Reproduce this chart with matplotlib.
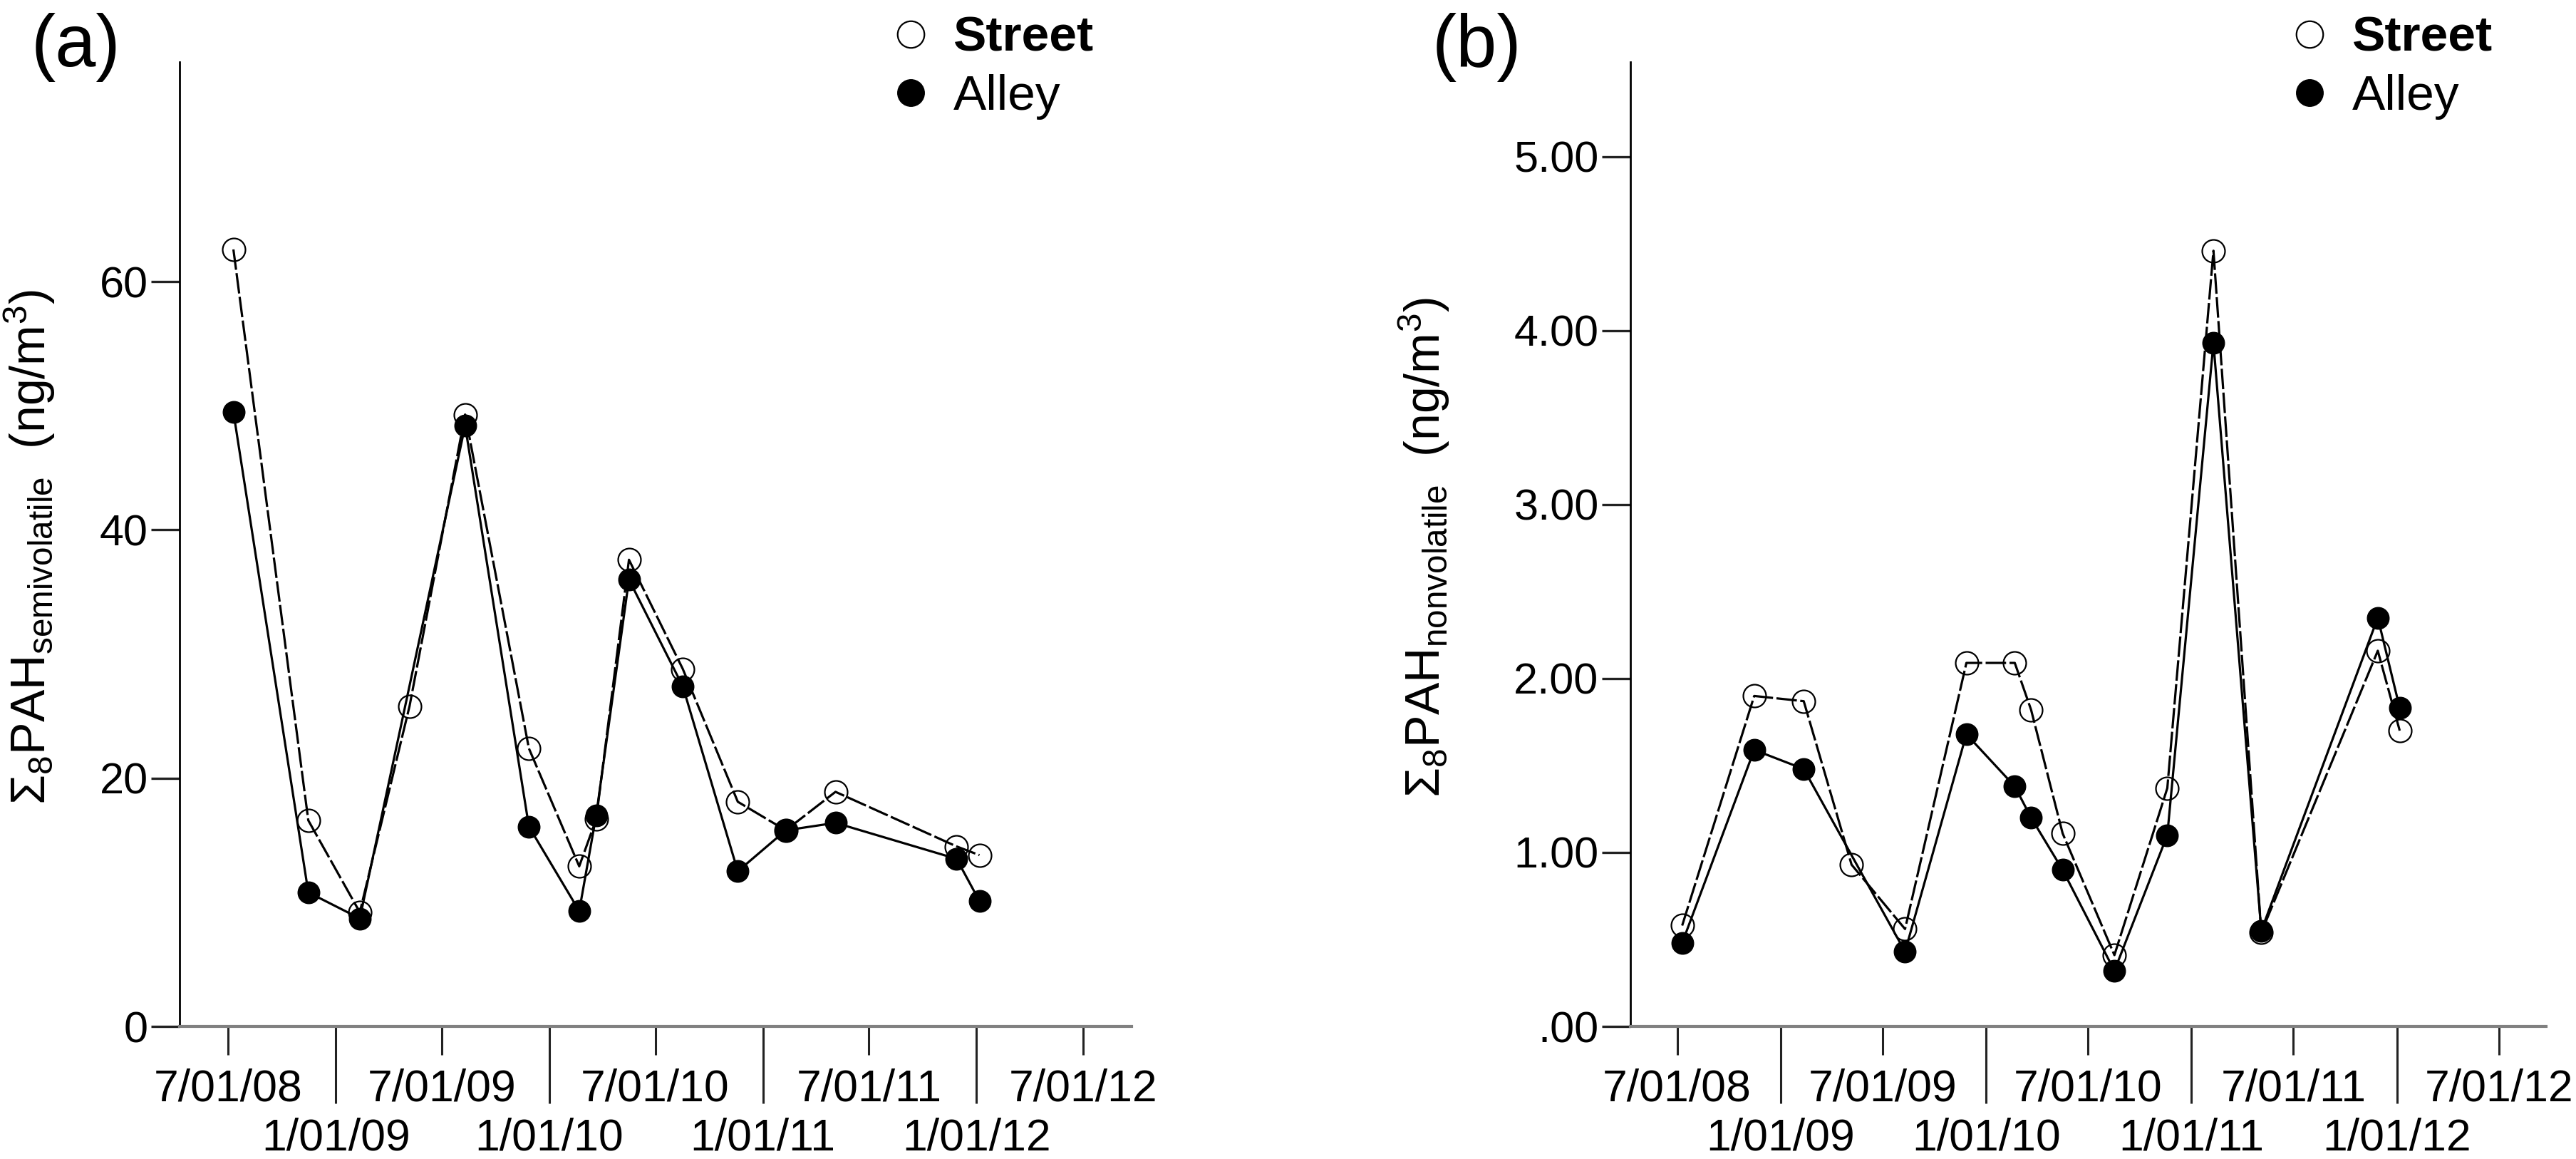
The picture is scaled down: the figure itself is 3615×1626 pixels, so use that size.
import numpy as np
import pandas as pd
import matplotlib
matplotlib.use('Agg')
import matplotlib.pyplot as plt
from matplotlib.lines import Line2D

plt.rcParams['font.family'] = ['Liberation Sans', 'DejaVu Sans']
plt.rcParams['mathtext.fontset'] = 'custom'
plt.rcParams['mathtext.rm'] = 'Liberation Sans'
plt.rcParams['mathtext.it'] = 'Liberation Sans:italic'
plt.rcParams['mathtext.bf'] = 'Liberation Sans:bold'

# sampling dates (same for both panels)
sample_dates = pd.to_datetime(['2008-07-10', '2008-11-15', '2009-02-11', '2009-05-07',
                               '2009-08-10', '2009-11-27', '2010-02-21', '2010-03-22',
                               '2010-05-17', '2010-08-17', '2010-11-19', '2011-02-09',
                               '2011-05-05', '2011-11-28', '2012-01-06'])

# (a) semivolatile, ng/m3
semi_street = [62.6, 16.6, 9.2, 25.8, 49.3, 22.4, 12.9, 16.7, 37.6, 28.8, 18.1, 15.8, 18.9, 14.5, 13.8]
semi_alley = [49.5, 10.8, 8.7, np.nan, 48.4, 16.1, 9.3, 17.0, 36.0, 27.4, 12.5, 15.8, 16.4, 13.5, 10.1]

# (b) nonvolatile, ng/m3
non_street = [0.58, 1.90, 1.87, 0.93, 0.56, 2.09, 2.09, 1.82, 1.11, 0.41, 1.37, 4.46, 0.54, 2.16, 1.70]
non_alley = [0.48, 1.59, 1.48, np.nan, 0.43, 1.68, 1.38, 1.20, 0.90, 0.32, 1.10, 3.93, 0.55, 2.35, 1.83]

major_dates = pd.to_datetime(['2008-07-01', '2009-07-01', '2010-07-01', '2011-07-01', '2012-07-01'])
major_labels = ['7/01/08', '7/01/09', '7/01/10', '7/01/11', '7/01/12']
minor_dates = pd.to_datetime(['2009-01-01', '2010-01-01', '2011-01-01', '2012-01-01'])
minor_labels = ['1/01/09', '1/01/10', '1/01/11', '1/01/12']

yticks_a = [0, 20, 40, 60]
ylabels_a = ['0', '20', '40', '60']
yticks_b = [0, 1, 2, 3, 4, 5]
ylabels_b = ['.00', '1.00', '2.00', '3.00', '4.00', '5.00']

W, H = 3616, 1626
fig = plt.figure(figsize=(W / 100, H / 100), dpi=100)


def fx(px):
    return px / W


def fy(px):
    return 1 - px / H


def panel(rect, street, alley, ylim, yticks, ylabels):
    ax = fig.add_axes(rect)
    street = np.array(street)
    alley = np.array(alley)
    ok = ~np.isnan(alley)
    ax.plot(sample_dates, street, color='black', lw=2.3, dashes=(9, 1.5),
            marker='o', ms=23, mfc='none', mec='black', mew=1.6, zorder=3)
    ax.plot(sample_dates[ok], alley[ok], color='black', lw=2.3,
            marker='o', ms=22, mfc='black', mec='black', zorder=4)
    ax.set_xlim(pd.Timestamp('2008-04-09'), pd.Timestamp('2012-09-22'))
    ax.set_ylim(ylim)
    ax.set_yticks(yticks)
    ax.set_yticklabels(ylabels)
    ax.set_xticks(major_dates)
    ax.set_xticklabels(major_labels)
    ax.set_xticks(minor_dates, minor=True)
    ax.set_xticklabels(minor_labels, minor=True)
    for s in ['top', 'right']:
        ax.spines[s].set_visible(False)
    ax.spines['bottom'].set_color('#808080')
    ax.spines['bottom'].set_linewidth(3.0)
    ax.spines['left'].set_color('black')
    ax.spines['left'].set_linewidth(2.0)
    ax.tick_params(axis='y', direction='out', length=29, width=2.4, color='#222222',
                   pad=3, labelsize=44)
    ax.tick_params(axis='x', which='major', direction='out', length=29, width=2.2,
                   color='#222222', pad=13, labelsize=45)
    ax.tick_params(axis='x', which='minor', direction='out', length=78, width=2.2,
                   color='#222222', pad=14, labelsize=45)
    return ax


ax1 = panel([fx(252), 1 - 1440 / H, fx(1336), (1440 - 87) / H],
            semi_street, semi_alley, (0, 77.7), yticks_a, ylabels_a)
ax2 = panel([fx(2288), 1 - 1440 / H, fx(1285), (1440 - 87) / H],
            non_street, non_alley, (0, 5.545), yticks_b, ylabels_b)

fig.text(fx(80), fy(768), r'Σ$_8$PAH$_{\mathrm{semivolatile}}$  (ng/m$^3$)',
         rotation=90, ha='right', va='center', fontsize=49)
fig.text(fx(2037), fy(768), r'Σ$_8$PAH$_{\mathrm{nonvolatile}}$  (ng/m$^3$)',
         rotation=90, ha='right', va='center', fontsize=49)

fig.text(fx(44), fy(93), '(a)', fontsize=74, va='baseline')
fig.text(fx(2010), fy(93), '(b)', fontsize=74, va='baseline')

handles = [Line2D([], [], ls='none', marker='o', ms=27, mfc='none', mec='black', mew=1.6),
           Line2D([], [], ls='none', marker='o', ms=27, mfc='black', mec='black')]
for ax, left in [(ax1, 1250), (ax2, 3213)]:
    leg = ax.legend(handles, ['Street', 'Alley'], loc='upper left',
                    bbox_to_anchor=(fx(left), fy(22)), bbox_transform=fig.transFigure,
                    frameon=False, fontsize=50, borderpad=0, borderaxespad=0,
                    handlelength=0.8, handletextpad=0.47, labelspacing=0.26)
    leg.get_texts()[0].set_fontweight('bold')

fig.savefig('out.png', dpi=100)
